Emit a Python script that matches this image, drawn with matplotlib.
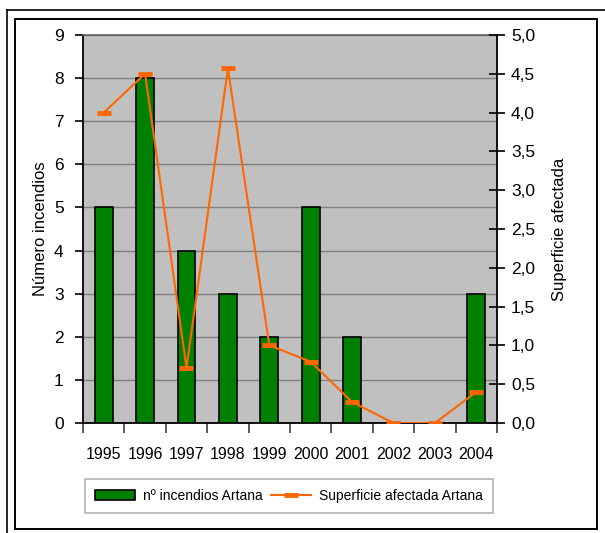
import numpy as np
import matplotlib
matplotlib.use("Agg")
from matplotlib import pyplot as plt
from matplotlib.lines import Line2D
from matplotlib.patches import Rectangle

plt.rcParams["font.family"] = ["Liberation Sans", "DejaVu Sans"]

# Data
years = ["1995", "1996", "1997", "1998", "1999", "2000", "2001", "2002", "2003", "2004"]
n_incendios = [5, 8, 4, 3, 2, 5, 2, 0, 0, 3]
superficie = [4.0, 4.5, 0.71, 4.57, 1.0, 0.79, 0.27, 0.0, 0.0, 0.40]

W, H = 605, 533
fig = plt.figure(figsize=(W / 100, H / 100), dpi=100)

# Frame around the chart (figure pixels -> fractions)
def fx(px):
    return px / W

def fy(py):
    return 1 - py / H

fig.add_artist(Line2D([fx(6.5), 1], [fy(10), fy(10)], color="black", lw=1.2, transform=fig.transFigure))
fig.add_artist(Line2D([fx(6.5), fx(6.5)], [fy(10), 0], color="black", lw=1.2, transform=fig.transFigure))
fig.add_artist(Rectangle((fx(14.5), fy(529)), fx(597) - fx(14.5), fy(18.5) - fy(529),
                         fill=False, edgecolor="black", lw=1.4, transform=fig.transFigure))

ax = fig.add_axes([83 / W, 1 - 423 / H, 414 / W, 388 / H])
ax.set_facecolor("#C0C0C0")

x = np.arange(len(years))
bars = ax.bar(x, n_incendios, width=0.43, color="#008000", edgecolor="black", lw=1.2,
              zorder=3, label="nº incendios Artana")

ax.set_xlim(-0.5, len(years) - 0.5)
ax.set_ylim(0, 9)
ax.set_yticks(range(0, 10))
ax.yaxis.grid(True, color="#808080", lw=1.0, zorder=1)
ax.set_axisbelow(True)
ax.set_xticks(x)
ax.set_xticklabels(years)
ax.set_xticks(np.arange(-0.5, len(years)), minor=True)
ax.tick_params(axis="x", which="major", length=0, pad=17, labelsize=11.5)
ax.tick_params(axis="x", which="minor", length=7, width=1.2, direction="out", color="#404040")
ax.tick_params(axis="y", length=6, width=1.2, direction="out", labelsize=12.5, pad=8)
ax.set_ylabel("Número incendios", fontsize=12, labelpad=4)
for side in ["left", "bottom", "right"]:
    ax.spines[side].set_linewidth(1.3)
    ax.spines[side].set_color("black")
ax.spines["top"].set_color("#606060")
ax.spines["top"].set_linewidth(1.2)

ax2 = ax.twinx()
line, = ax2.plot(x, superficie, color="#FF6600", lw=1.5, marker="_", markersize=10,
                 markeredgewidth=3.5, zorder=4, label="Superficie afectada Artana")
ax2.set_ylim(0, 5)
ax2.set_yticks(np.arange(0, 5.01, 0.5))
ax2.set_yticklabels([f"{v:.1f}".replace(".", ",") for v in np.arange(0, 5.01, 0.5)])
ax2.tick_params(axis="y", length=12, width=1.2, direction="inout", labelsize=12.5, pad=4)
ax2.set_ylabel("Superficie afectada", fontsize=12, labelpad=12)
for s in ax2.spines.values():
    s.set_visible(False)

leg = fig.legend([bars, line], ["nº incendios Artana", "Superficie afectada Artana"],
                 loc="center", bbox_to_anchor=(289 / W, 1 - 496 / H), ncol=2,
                 frameon=True, fancybox=False, edgecolor="#A0A0A0", fontsize=10,
                 handlelength=2.9, handleheight=0.8, columnspacing=0.6,
                 handletextpad=0.55, borderpad=0.75, borderaxespad=0)
leg.get_frame().set_linewidth(1.2)

plt.savefig("out.png", dpi=100)
